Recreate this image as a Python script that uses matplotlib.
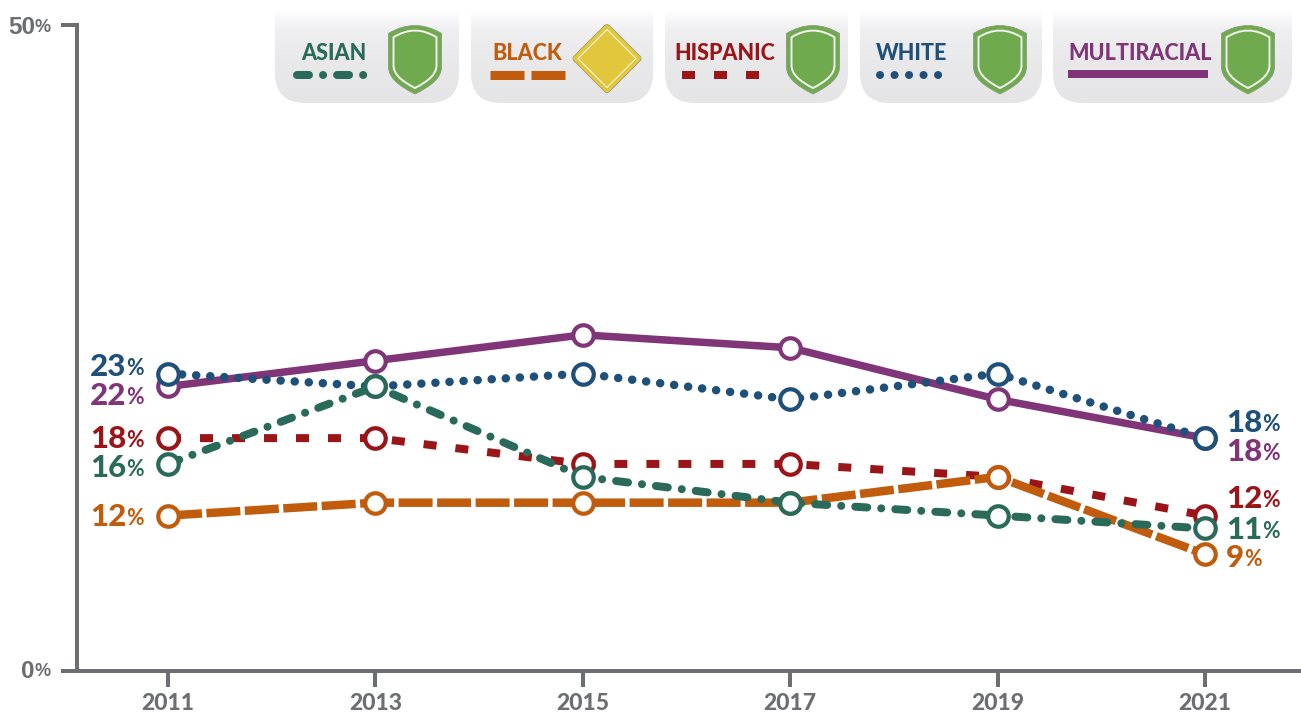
import numpy as np
import matplotlib
matplotlib.use("Agg")
import matplotlib.pyplot as plt
from matplotlib.patches import FancyBboxPatch, PathPatch, Polygon
from matplotlib.path import Path

# Data
years = [2011, 2013, 2015, 2017, 2019, 2021]
multiracial = [22, 24, 26, 25, 21, 18]
white = [23, 22, 23, 21, 23, 18]
hispanic = [18, 18, 16, 16, 15, 12]
black = [12, 13, 13, 13, 15, 9]
asian = [16, 22, 15, 13, 12, 11]
legend_names = ["ASIAN", "BLACK", "HISPANIC", "WHITE", "MULTIRACIAL"]

GRAY = "#6d6e71"
C_ASIAN = "#2a6a5b"
C_BLACK = "#c05c0c"
C_HISP = "#9b1518"
C_WHITE = "#1f5079"
C_MULTI = "#7f3577"
GREEN = "#70aa4e"
YELLOW = "#e2c73c"

COND = ["Lato", "DejaVu Sans"]
WIDE = ["Liberation Sans", "DejaVu Sans"]
PX = 0.72  # one pixel in points at dpi 100

plt.rcParams["lines.scale_dashes"] = False

W, H = 1301, 715
fig = plt.figure(figsize=(W / 100, H / 100), dpi=100, facecolor="white")

# Overlay in pixel coordinates for legend badges and labels
over = fig.add_axes([0, 0, 1, 1])
over.set_axis_off()

# Main axes
ax = fig.add_axes([77 / W, (H - 670.5) / H, (W - 77) / W, 645.5 / H])
ax.patch.set_alpha(0)
ax.set_xlim(2011 - 91 / 103.7, 2021 + 96 / 103.7)
ax.set_ylim(0, 50)
ax.spines["top"].set_visible(False)
ax.spines["right"].set_visible(False)
for s in ["left", "bottom"]:
    ax.spines[s].set_linewidth(4 * PX)
    ax.spines[s].set_color(GRAY)
ax.set_xticks(years)
ax.set_xticklabels([])
ax.set_yticks([0, 50])
ax.set_yticklabels([])
ax.tick_params(length=16 * PX, width=4 * PX, color=GRAY)


def dash(*pattern):
    return (0, tuple(p * PX for p in pattern))


styles = [
    (multiracial, C_MULTI, "-", "butt", 7.5),
    (white, C_WHITE, dash(0.1, 14), "round", 8.5),
    (hispanic, C_HISP, dash(13, 19), "butt", 8),
    (black, C_BLACK, dash(34, 4.5), "butt", 8.5),
    (asian, C_ASIAN, dash(12, 14, 0.1, 14), "round", 8),
]
for i, (vals, col, ls, cap, lw) in enumerate(styles):
    z = 3 + i
    ax.plot(years, vals, color=col, linestyle=ls, dash_capstyle=cap,
            linewidth=lw * PX, zorder=z, clip_on=False)
    ax.plot(years, vals, linestyle="none", marker="o", markersize=20.5 * PX,
            markerfacecolor="white", markeredgecolor=col,
            markeredgewidth=4.2 * PX, zorder=z + 0.5, clip_on=False)

# Legend badges
badges = [(275, 459), (471, 653), (665, 848), (860, 1042), (1053, 1292)]
grad_y = np.linspace(0, 103, 104)
grad = np.interp(grad_y, [0, 10, 30, 60, 103], [255, 255, 239, 233, 229]) / 255
grad_img = np.stack([grad, grad, grad + 0.006], axis=-1).clip(0, 1)[:, np.newaxis, :]
for x0, x1 in badges:
    box = FancyBboxPatch((x0, -40), x1 - x0, 143,
                         boxstyle="round,pad=0,rounding_size=30",
                         facecolor="none", edgecolor="none",
                         transform=over.transData)
    over.add_patch(box)
    im = over.imshow(grad_img, extent=(x0, x1, 103, 0), aspect="auto", zorder=1)
    im.set_clip_path(box)


def shield(cx, cy, sx, sy, **kw):
    verts = [(-1, -0.78), (0, -1.25), (1, -0.78), (1, 0.2), (1, 0.52), (0.62, 0.76), (0, 1),
             (-0.62, 0.76), (-1, 0.52), (-1, 0.2), (-1, -0.78)]
    codes = [Path.MOVETO, Path.CURVE3, Path.CURVE3, Path.LINETO, Path.CURVE4, Path.CURVE4, Path.CURVE4,
             Path.CURVE4, Path.CURVE4, Path.CURVE4, Path.CLOSEPOLY]
    verts = [(cx + a * sx, cy + b * sy) for a, b in verts]
    over.add_patch(PathPatch(Path(verts, codes), zorder=2, **kw))


for cx in [415, 813, 1000, 1248]:
    shield(cx, 60, 26.5, 34, facecolor=GREEN, edgecolor="#8a9a80", linewidth=0.6)
    shield(cx, 59.5, 21.5, 28.5, facecolor=GREEN, edgecolor="#f2f2f2", linewidth=1.4)

# Black badge diamond
diamond = [(607, 27.5), (638, 58.5), (607, 89.5), (576, 58.5)]
diamond_in = [(607, 29.5), (636, 58.5), (607, 87.5), (578, 58.5)]
over.add_patch(Polygon(diamond, facecolor=YELLOW, edgecolor="#a09a70", linewidth=7 * PX,
                       joinstyle="round", zorder=2))
over.add_patch(Polygon(diamond, facecolor=YELLOW, edgecolor=YELLOW, linewidth=5.5 * PX,
                       joinstyle="round", zorder=2))
over.add_patch(Polygon(diamond_in, facecolor=YELLOW, edgecolor="#f4f0d8", linewidth=1.2 * PX,
                       joinstyle="round", zorder=2))

# Legend text and keys
name_x = [334, 527, 725, 912, 1140]
name_c = [C_ASIAN, C_BLACK, C_HISP, C_WHITE, C_MULTI]
for name, nx, c in zip(legend_names, name_x, name_c):
    over.text(nx, 53, name, color=c, family=COND, weight=900, fontsize=15.5,
              ha="center", va="center", zorder=3)
over.plot([297, 366], [74.5, 74.5], color=C_ASIAN, lw=8 * PX, linestyle=dash(12, 14, 0.1, 14),
          dash_capstyle="round", zorder=3)
over.plot([490, 565], [74.5, 74.5], color=C_BLACK, lw=9 * PX, linestyle=dash(34, 7),
          dash_capstyle="butt", zorder=3)
over.plot([682, 760], [74.5, 74.5], color=C_HISP, lw=8 * PX, linestyle=dash(13, 19),
          dash_capstyle="butt", zorder=3)
over.plot([880, 939], [74.5, 74.5], color=C_WHITE, lw=8 * PX, linestyle=dash(0.1, 14.4),
          dash_capstyle="round", zorder=3)
over.plot([1072, 1204], [73.5, 73.5], color=C_MULTI, lw=8 * PX, zorder=3)

over.set_xlim(0, W)
over.set_ylim(H, 0)

renderer = fig.canvas.get_renderer()


def pct_label(x, y, value, color, size=22.5, pct_size=15.5):
    t = over.text(x, y, str(value), color=color, family=COND, weight=900,
                  fontsize=size, ha="left", va="center_baseline", zorder=8)
    right = t.get_window_extent(renderer).x1
    over.text(right, y + 2, "%", color=color, family=COND, weight="bold",
              fontsize=pct_size, ha="left", va="center_baseline", zorder=8)


# Value labels at both ends
left_y = {"w": 364.5, "m": 393.5, "h": 436.5, "a": 465.5, "b": 514.5}
right_y = {"w": 420.5, "m": 449.5, "h": 496.5, "a": 527.5, "b": 555.5}
series = [("w", white, C_WHITE), ("m", multiracial, C_MULTI), ("h", hispanic, C_HISP),
          ("a", asian, C_ASIAN), ("b", black, C_BLACK)]
for key, vals, col in series:
    pct_label(90, left_y[key], vals[0], col)
    pct_label(1226, right_y[key], vals[-1], col)

# Axis tick labels
for yr in years:
    xpx = 168 + (yr - 2011) * 103.7
    over.text(xpx, 702, str(yr), color=GRAY, family=COND, weight=900, fontsize=16.5,
              ha="center", va="center_baseline", zorder=8)
for lab, ypx in [("50", 25), ("0", 669)]:
    p = over.text(51, ypx + 1, "%", color=GRAY, family=WIDE, weight="bold", fontsize=13,
                  ha="right", va="center_baseline", zorder=8)
    left = p.get_window_extent(renderer).x0
    over.text(left, ypx, lab, color=GRAY, family=WIDE, weight="bold", fontsize=17.5,
              ha="right", va="center_baseline", zorder=8)

fig.savefig("out.png", dpi=100)
